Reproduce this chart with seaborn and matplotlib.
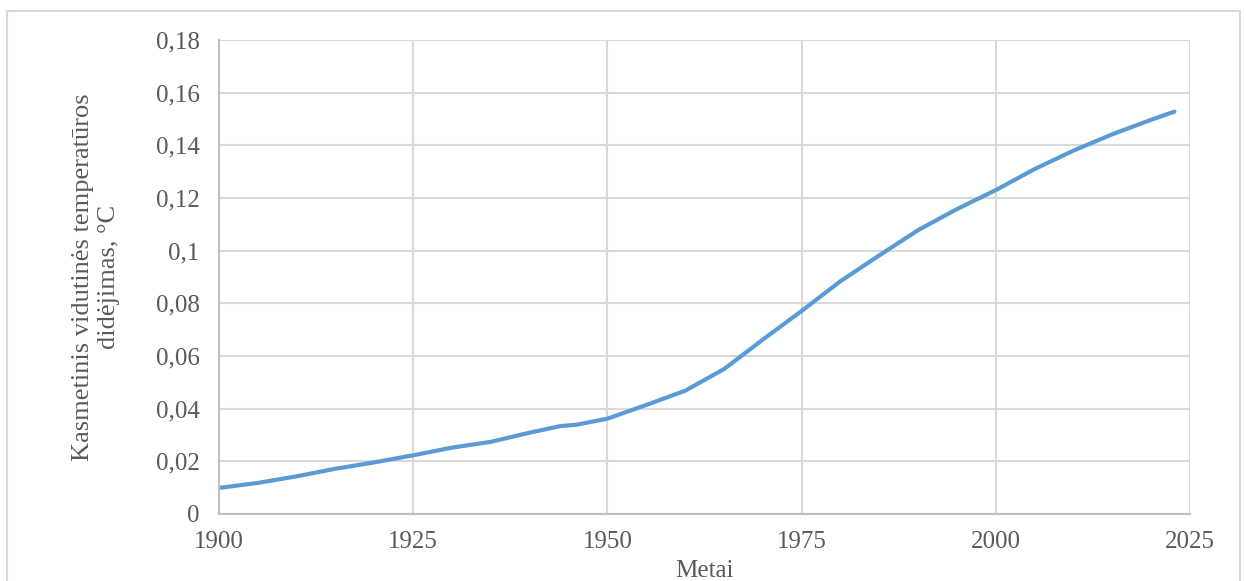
import matplotlib
matplotlib.use("Agg")
import matplotlib.pyplot as plt
import seaborn as sns
import pandas as pd
from matplotlib.patches import Rectangle

# values
years = [1900, 1905, 1910, 1915, 1920, 1925, 1930, 1935, 1940, 1944, 1946,
         1950, 1955, 1960, 1965, 1970, 1975, 1980, 1985, 1990, 1995, 2000,
         2005, 2010, 2015, 2020, 2023]
increase = [0.0099, 0.0118, 0.0143, 0.0172, 0.0196, 0.0223, 0.0252, 0.0274,
            0.0309, 0.0334, 0.0339, 0.0362, 0.0414, 0.0468, 0.0550, 0.0662,
            0.0771, 0.0884, 0.0982, 0.1078, 0.1158, 0.1230, 0.1310, 0.1380,
            0.1442, 0.1497, 0.1528]

x_ticks = [1900, 1925, 1950, 1975, 2000, 2025]
y_ticks = [0, 0.02, 0.04, 0.06, 0.08, 0.10, 0.12, 0.14, 0.16, 0.18]
y_tick_labels = ["0", "0,02", "0,04", "0,06", "0,08", "0,1", "0,12", "0,14", "0,16", "0,18"]

df = pd.DataFrame({"Metai": years, "increase": increase})

sns.set_theme(style="white")
plt.rcParams["font.family"] = ["Liberation Serif", "DejaVu Serif"]

txt = "#595959"
grid_c = "#d9d9d9"
fs = 18

fig = plt.figure(figsize=(12.46, 5.81), dpi=100)
ax = fig.add_axes([219 / 1246, 1 - 514 / 581, (1190 - 219) / 1246, (514 - 40) / 581])

sns.lineplot(data=df, x="Metai", y="increase", ax=ax, color="#5b9bd5", linewidth=3)

ax.set_xlim(1900, 2025)
ax.set_ylim(0, 0.18)
ax.set_xticks(x_ticks)
ax.set_xticklabels([str(t) for t in x_ticks])
ax.set_yticks(y_ticks)
ax.set_yticklabels(y_tick_labels)
ax.tick_params(axis="both", length=0, labelsize=fs, colors=txt)
ax.tick_params(axis="y", pad=14)
ax.tick_params(axis="x", pad=12)
ax.grid(True, color=grid_c, linewidth=1.5)
for s in ["top", "right"]:
    ax.spines[s].set_visible(False)
for s in ["left", "bottom"]:
    ax.spines[s].set_color("#bfbfbf")
    ax.spines[s].set_linewidth(1.5)

ax.set_xlabel("Metai", fontsize=fs, color=txt, labelpad=5)
ax.set_ylabel("Kasmetinis vidutinės temperatūros\ndidėjimas, °C", fontsize=19,
              color=txt, labelpad=26, linespacing=1.2)

# outer chart border
fig.patches.append(Rectangle((7 / 1246, -0.05), (1240 - 7) / 1246, 1.05 - 11 / 581,
                             transform=fig.transFigure, fill=False,
                             edgecolor="#d9d9d9", linewidth=1.5))

fig.savefig("out.png", dpi=100)
